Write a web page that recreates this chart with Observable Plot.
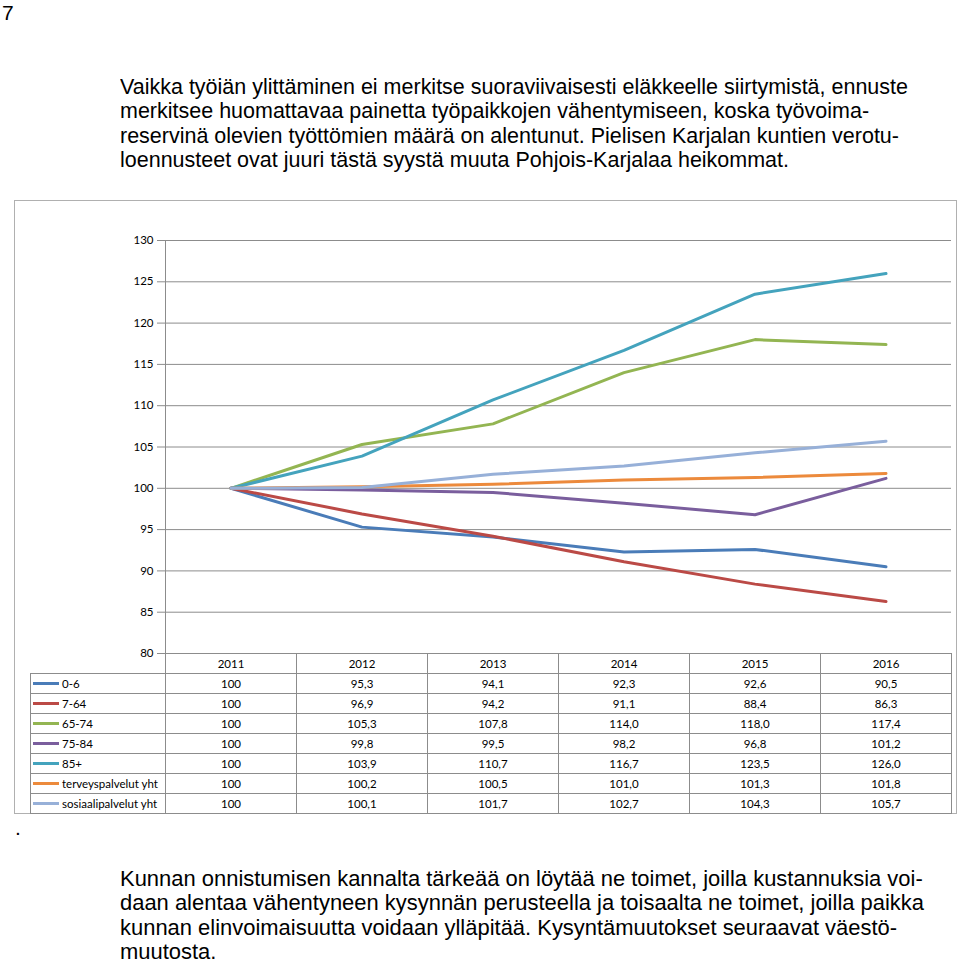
<!DOCTYPE html>
<html><head><meta charset="utf-8">
<script src="https://cdn.jsdelivr.net/npm/d3@7"></script>
<script src="https://cdn.jsdelivr.net/npm/@observablehq/plot@0.6"></script>
<style>
body{margin:0;background:#fff;}
#page{position:relative;width:960px;height:964px;overflow:hidden;font-family:"Liberation Sans",Arial,sans-serif;color:#000;}
.para{position:absolute;left:120px;font-size:22px;line-height:24.4px;}
.para div{white-space:nowrap;transform-origin:0 0;width:max-content;}
#pnum{position:absolute;left:2px;top:1px;font-size:21px;line-height:normal;}
#dot{position:absolute;left:15px;top:816px;font-size:21px;line-height:24.4px;}
#box{position:absolute;left:14px;top:200px;width:941px;height:612px;border:1px solid #b0b0b0;}
#chart{position:absolute;left:0;top:200px;}
#tbl{position:absolute;left:30px;top:653px;border-collapse:collapse;table-layout:fixed;font-family:Lato,"Open Sans",sans-serif;font-size:11.5px;color:#000;}
#tbl td{border:1px solid #8c8c8c;height:19px;padding:0;text-align:center;line-height:18px;white-space:nowrap;overflow:hidden;}
#tbl td.leg{text-align:left;padding-left:2px;}
#tbl td.blank{border:none;}
.sw{display:inline-block;width:26px;height:3px;vertical-align:middle;margin-right:3px;margin-top:-2px;}
</style></head>
<body>
<div id="page">
  <div id="pnum">7</div>
  <div class="para" id="p1" style="top:75px" data-w="788" data-ref="0">
    <div>Vaikka työiän ylittäminen ei merkitse suoraviivaisesti eläkkeelle siirtymistä, ennuste</div>
    <div>merkitsee huomattavaa painetta työpaikkojen vähentymiseen, koska työvoima-</div>
    <div>reservinä olevien työttömien määrä on alentunut. Pielisen Karjalan kuntien verotu-</div>
    <div>loennusteet ovat juuri tästä syystä muuta Pohjois-Karjalaa heikommat.</div>
  </div>
  <div id="box"></div>
  <table id="tbl"></table>
  <div id="chart"></div>
  <div id="dot">.</div>
  <div class="para" id="p2" style="top:867px" data-w="804" data-ref="1">
    <div>Kunnan onnistumisen kannalta tärkeää on löytää ne toimet, joilla kustannuksia voi-</div>
    <div>daan alentaa vähentyneen kysynnän perusteella ja toisaalta ne toimet, joilla paikka</div>
    <div>kunnan elinvoimaisuutta voidaan ylläpitää. Kysyntämuutokset seuraavat väestö-</div>
    <div>muutosta.</div>
  </div>
</div>
<script>
// ---- data ----
const years = [2011, 2012, 2013, 2014, 2015, 2016];
const seriesNames = ["0-6", "7-64", "65-74", "75-84", "85+", "terveyspalvelut yht", "sosiaalipalvelut yht"];
const v_0_6   = [100, 95.3, 94.1, 92.3, 92.6, 90.5];
const v_7_64  = [100, 96.9, 94.2, 91.1, 88.4, 86.3];
const v_65_74 = [100, 105.3, 107.8, 114.0, 118.0, 117.4];
const v_75_84 = [100, 99.8, 99.5, 98.2, 96.8, 101.2];
const v_85    = [100, 103.9, 110.7, 116.7, 123.5, 126.0];
const v_terv  = [100, 100.2, 100.5, 101.0, 101.3, 101.8];
const v_sos   = [100, 100.1, 101.7, 102.7, 104.3, 105.7];
const yTicks = [80, 85, 90, 95, 100, 105, 110, 115, 120, 125, 130];
const colors = ["#4a7cb8", "#bb4a46", "#93b552", "#7a5e9d", "#44a3bd", "#ec8a3c", "#97b0d8"];

const seriesValues = [v_0_6, v_7_64, v_65_74, v_75_84, v_85, v_terv, v_sos];
const data = seriesNames.flatMap((s, i) => years.map((y, j) => ({series: s, year: y, value: seriesValues[i][j]})));

const chart = Plot.plot({
  width: 960, height: 462,
  marginLeft: 165, marginRight: 9, marginTop: 40, marginBottom: 9,
  x: {domain: [years[0] - 0.5, years[years.length - 1] + 0.5], axis: null},
  y: {domain: [80, 130], axis: null},
  color: {domain: seriesNames, range: colors},
  style: {fontFamily: "Lato, 'Open Sans', sans-serif", fontSize: "11.5px", color: "#000", background: "transparent", overflow: "visible"},
  marks: [
    Plot.ruleY(yTicks, {stroke: "#8c8c8c", strokeWidth: 1}),
    Plot.ruleX([years[0] - 0.5], {stroke: "#8c8c8c", strokeWidth: 1}),
    Plot.axisY({ticks: yTicks, tickSize: 8, tickPadding: 4, stroke: "#8c8c8c", fill: "#000", tickFormat: d => String(d), label: null}),
    Plot.line(data, {x: "year", y: "value", z: "series", stroke: "series", strokeWidth: 3, strokeLinejoin: "round", strokeLinecap: "round"})
  ]
});
document.getElementById("chart").appendChild(chart);

// ---- data table built from the same arrays, aligned on the chart's x scale ----
const xs = chart.scale("x");
const colW = xs.apply(years[0] + 0.5) - xs.apply(years[0] - 0.5);
const legendLeft = 30;
const legW = xs.apply(years[0] - 0.5) - legendLeft;
const colorScale = chart.scale("color");
const fmt = (v, j) => j === 0 ? String(v) : v.toFixed(1).replace(".", ",");
const tbl = document.getElementById("tbl");
let html = `<colgroup><col style="width:${legW}px">` + years.map(() => `<col style="width:${colW}px">`).join("") + `</colgroup>`;
html += `<tr><td class="blank"></td>` + years.map(y => `<td>${y}</td>`).join("") + `</tr>`;
seriesNames.forEach((s, i) => {
  html += `<tr><td class="leg"><span class="sw" style="background:${colorScale.apply(s)}"></span>${s}</td>` +
    seriesValues[i].map((v, j) => `<td>${fmt(v, j)}</td>`).join("") + `</tr>`;
});
tbl.innerHTML = html;
tbl.style.width = (legW + colW * years.length) + "px";

// ---- condense each paragraph uniformly, calibrated on one line's width in the scan ----
function fit() {
  document.querySelectorAll(".para").forEach(p => {
    const lines = p.querySelectorAll("div");
    lines.forEach(el => el.style.transform = "none");
    const w = lines[+p.dataset.ref].getBoundingClientRect().width;
    const k = +p.dataset.w / w;
    lines.forEach(el => el.style.transform = `scaleX(${k})`);
  });
}
fit();
if (document.fonts && document.fonts.ready) document.fonts.ready.then(fit);
</script>
</body></html>
